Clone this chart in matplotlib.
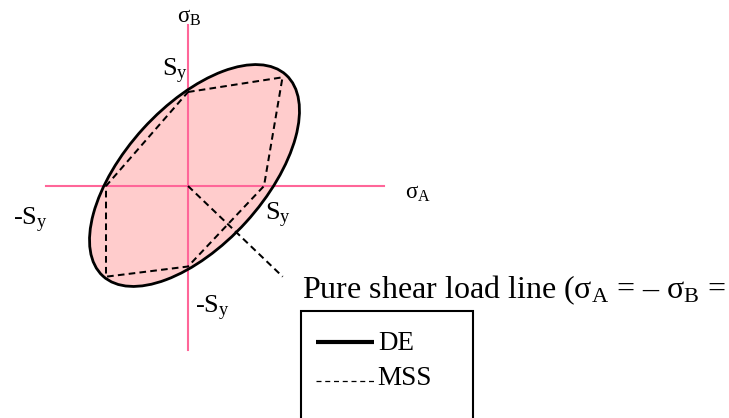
import matplotlib
matplotlib.use("Agg")
import matplotlib.pyplot as plt
from matplotlib.patches import Ellipse, Rectangle

plt.rcParams['font.family'] = ['Liberation Serif', 'DejaVu Serif']
plt.rcParams['mathtext.fontset'] = 'custom'
plt.rcParams['mathtext.rm'] = 'Liberation Serif'
plt.rcParams['mathtext.it'] = 'Liberation Serif:italic'
plt.rcParams['mathtext.bf'] = 'Liberation Serif:bold'

# Maximum shear stress (MSS) hexagon vertices (sigma_A, sigma_B)
mss_a = [0, 94.5, 76, 0, -82, -82, 0]
mss_b = [94, 108.7, 0, -80.5, -90.7, 0, 94]

# Distortion energy (DE) ellipse
de_center = (6.5, 10.5)
de_major = 272
de_minor = 139
de_angle = 47.7

# Pure shear load line
shear_a = [0, 94.7]
shear_b = [0, -90.7]

# Axes extents
axis_a = [-142, 196]
axis_b = [161, -164]

pink = '#ff6699'
fill = '#ffcccc'

fig = plt.figure(figsize=(7.29, 4.18), dpi=100)
ax = fig.add_axes([0, 0, 1, 1])
ax.set_xlim(-188, 541)
ax.set_ylim(-232, 186)
ax.axis('off')

ell = Ellipse(de_center, de_major, de_minor, angle=de_angle,
              facecolor=fill, edgecolor='none', zorder=1)
ax.add_patch(ell)

ax.plot(axis_a, [0, 0], color=pink, lw=1.5, zorder=2)
ax.plot([0, 0], axis_b, color=pink, lw=1.5, zorder=2)

ell2 = Ellipse(de_center, de_major, de_minor, angle=de_angle,
               facecolor='none', edgecolor='black', lw=2.0, zorder=3)
ax.add_patch(ell2)

ax.plot(mss_a, mss_b, color='black', lw=1.45, linestyle=(0, (3.3, 2.1)), zorder=4)
ax.plot(shear_a, shear_b, color='black', lw=1.45, linestyle=(0, (3.3, 2.1)), zorder=4)

# Labels
ax.text(1, 163, r'$\mathrm{σ}_\mathrm{B}$', fontsize=16.5, ha='center', va='baseline')
ax.text(217, -13, r'$\mathrm{σ}_\mathrm{A}$', fontsize=16.5, ha='left', va='baseline')
ax.text(-26, 110, r'$\mathrm{S}_\mathrm{y}$', fontsize=19, ha='left', va='baseline')
ax.text(-175, -39, r'-$\mathrm{S}_\mathrm{y}$', fontsize=19, ha='left', va='baseline')
ax.text(77, -34, r'$\mathrm{S}_\mathrm{y}$', fontsize=19, ha='left', va='baseline')
ax.text(7, -127, r'-$\mathrm{S}_\mathrm{y}$', fontsize=19, ha='left', va='baseline')

ax.text(114, -112, r'Pure shear load line ($\mathrm{σ}_\mathrm{A}$ = – $\mathrm{σ}_\mathrm{B}$ =',
        fontsize=23, ha='left', va='baseline')

# Legend box
ax.add_patch(Rectangle((113.5, -270), 171.5, 145, facecolor='white',
                       edgecolor='black', lw=1.5, zorder=5, clip_on=True))
ax.plot([128, 186], [-156, -156], color='black', lw=3.0, zorder=6,
        solid_capstyle='butt')
ax.text(190, -164, 'DE', fontsize=19.5, ha='left', va='baseline', zorder=6)
ax.plot([128, 188], [-195, -195], color='black', lw=0.9,
        linestyle=(0, (4, 3)), zorder=6)
ax.text(189, -199, 'MSS', fontsize=19.5, ha='left', va='baseline', zorder=6)

fig.savefig('out.png', dpi=100)
